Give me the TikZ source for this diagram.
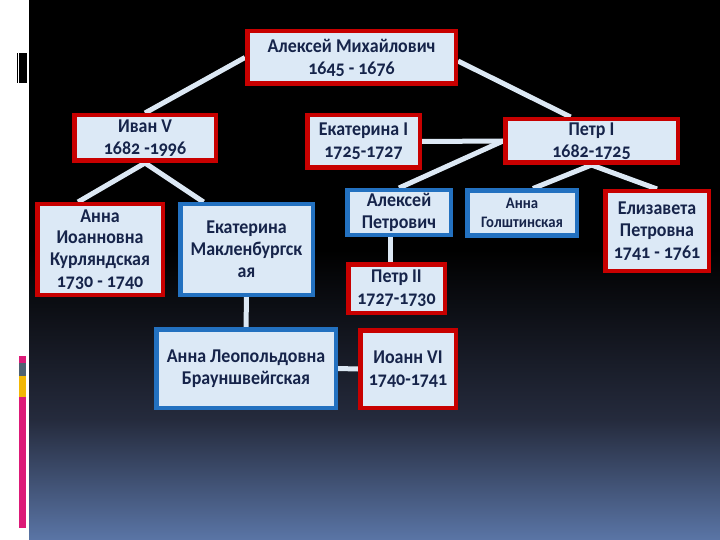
\documentclass[tikz,border=0pt]{standalone}
\usepackage{fontspec}
\setmainfont{Carlito}[Numbers=OldStyle, FakeStretch=0.92]
\usetikzlibrary{calc}
\definecolor{boxfill}{HTML}{DCE9F6}
\definecolor{redb}{HTML}{C80000}
\definecolor{blueb}{HTML}{2371C0}
\definecolor{txt}{HTML}{16244A}
\definecolor{linec}{HTML}{DCE8F4}
\definecolor{bgmid}{HTML}{252B3D}
\definecolor{bgbot}{HTML}{5A75A6}
\definecolor{magen}{HTML}{DC1A78}
\definecolor{slate}{HTML}{4F6272}
\definecolor{yell}{HTML}{F2B705}
\pgfdeclarelayer{back}
\pgfdeclarelayer{bg}
\pgfsetlayers{back,bg,main}
\tikzset{
  famnode/.style={rectangle, fill=boxfill, line width=4.5pt, inner sep=0pt,
    align=center, text=txt, font=\bfseries\fontsize{19.5}{21.8}\selectfont},
  redbox/.style={famnode, draw=redb},
  bluebox/.style={famnode, draw=blueb},
  conn/.style={draw=linec, line width=5pt},
}
\begin{document}
\begin{tikzpicture}[x=1pt,y=-1pt]
\useasboundingbox (0,0) rectangle (720,540);
% boxes
\node[redbox, minimum width=208.5pt, minimum height=52.5pt] (am) at (351.5,57.5) {Алексей Михайлович\\1645 - 1676};
\node[redbox, minimum width=141.5pt, minimum height=45.5pt] (ivan) at (145,138) {Иван V\\1682 -1996};
\node[redbox, minimum width=112.5pt, minimum height=52.5pt] (ek1) at (363.5,141.5) {Екатерина I\\1725-1727};
\node[redbox, minimum width=172.5pt, minimum height=43.5pt] (petr1) at (591.5,141) {Петр I\\1682-1725};
\node[redbox, minimum width=125.5pt, minimum height=90.5pt] (ai) at (100,249.5) {Анна\\Иоанновна\\Курляндская\\1730 - 1740};
\node[bluebox, minimum width=132.5pt, minimum height=90.5pt] (em) at (246.5,249.5) {Екатерина\\Макленбургск\\ая};
\node[bluebox, minimum width=179.5pt, minimum height=78.5pt] (al) at (246,368.5) {Анна Леопольдовна\\Брауншвейгская};
\node[bluebox, minimum width=103.5pt, minimum height=44.5pt] (ap) at (399,212.5) {Алексей\\Петрович};
\node[bluebox, minimum width=109.5pt, minimum height=44.5pt, font=\bfseries\fontsize{16}{19.5}\selectfont] (ag) at (522,213) {Анна\\Голштинская};
\node[redbox, minimum width=103.5pt, minimum height=79.5pt] (el) at (657,231) {Елизавета\\Петровна\\1741 - 1761};
\node[redbox, minimum width=96.5pt, minimum height=48.5pt] (p2) at (396.5,288.5) {Петр II\\1727-1730};
\node[redbox, minimum width=95.5pt, minimum height=77.5pt] (i6) at (408,369) {Иоанн VI\\1740-1741};
% connectors
\begin{pgfonlayer}{bg}
\draw[conn] (am.west) -- (ivan.north);
\draw[conn] ([yshift=-3.5pt]am.east) -- ([xshift=-21pt]petr1.north);
\draw[conn] (ek1.east) -- (petr1.west);
\draw[conn] (petr1.west) -- (ap.north);
\draw[conn] (petr1.south) -- ([xshift=11pt]ag.north);
\draw[conn] (petr1.south) -- (el.north);
\draw[conn] (ivan.south) -- ([xshift=-22pt]ai.north);
\draw[conn] (ivan.south) -- ([xshift=-43pt]em.north);
\draw[conn] (em.south) -- (al.north);
\draw[conn] (al.east) -- (i6.west);
\draw[conn] ([xshift=-9pt]ap.south) -- ([xshift=-9pt]ap.south |- p2.north);
\end{pgfonlayer}
% background
\begin{pgfonlayer}{back}
\fill[white] (0,0) rectangle (720,540);
\fill[black] (29,0) rectangle (720,251);
\shade[top color=black, bottom color=bgmid] (29,250) rectangle (720,421);
\shade[top color=bgmid, bottom color=bgbot] (29,420) rectangle (720,540);
\fill[black] (16.7,53) rectangle (17.7,83);
\fill[black] (19,53) rectangle (27,83);
\fill[magen] (19,356) rectangle (26,363);
\fill[slate] (19,363) rectangle (26,376);
\fill[yell] (19,376) rectangle (26,397);
\fill[magen] (19,397) rectangle (26,528);
\end{pgfonlayer}
\end{tikzpicture}
\end{document}
